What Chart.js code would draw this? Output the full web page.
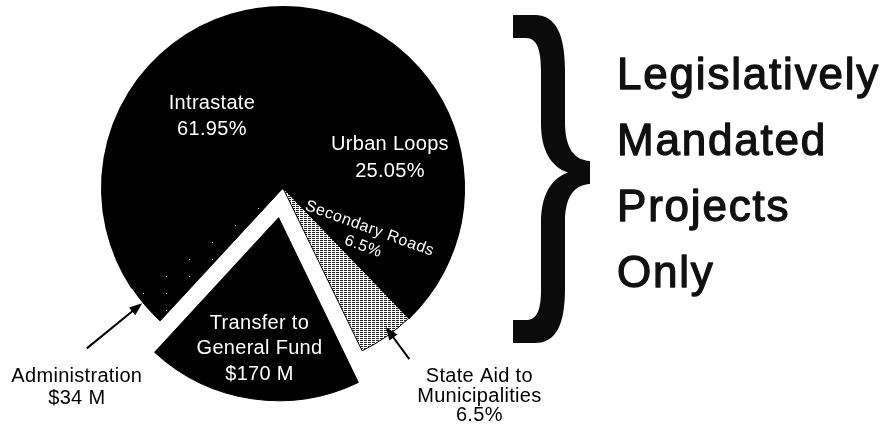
<!DOCTYPE html>
<html>
<head>
<meta charset="utf-8">
<script src="https://cdn.jsdelivr.net/npm/chart.js@4.4.1/dist/chart.umd.min.js"></script>
<style>
  html, body { margin: 0; padding: 0; background: #fff; }
  #wrap { position: relative; width: 887px; height: 435px; }
</style>
</head>
<body>
<div id="wrap"><canvas id="pieChart"></canvas></div>
<script>
'use strict';

// ===== data =====
const categories = ['Intrastate', 'Urban Loops', 'Secondary Roads', 'State Aid to Municipalities', 'Transfer to General Fund', 'Administration'];
const mandatedShares = [61.95, 25.05, 6.5, 6.5];   // % of the mandated part
const mandatedTotal = 687;                          // $M
const transferAmount = 170;                         // $M
const adminAmount = 34;                             // $M
const bracketLines = ['Legislatively', 'Mandated', 'Projects', 'Only'];

const values = mandatedShares.map(s => s / 100 * mandatedTotal).concat([transferAmount, adminAmount]);

const FONT = "'Liberation Sans', Arial, sans-serif";
const EXPLODE = 30;        // px the transfer slice is pulled out
const OFFSET_DIV = 4;      // chart.js v4 arc translates offset / 4

// label text per slice
const sliceText = [
  [categories[0], `${mandatedShares[0]}%`],
  [categories[1], `${mandatedShares[1]}%`],
  [categories[2], `${mandatedShares[2]}%`],
  ['State Aid to', 'Municipalities', `${mandatedShares[3]}%`],
  ['Transfer to', 'General Fund', `$${transferAmount} M`],
  [categories[5], `$${adminAmount} M`],
];

// label placement (polar, relative to each slice)
const labelLayout = [
  { r: 0.563, shift: -6.7, lh: 26, size: 20 },
  { r: 0.616, shift: -9.6, lh: 27, size: 20 },
  { r: 0.535, shift: -7.1, lh: 19, size: 16, rot: 20, spacing: 0.6 },
  { arrow: [0.955, 1.175], shift: -1.5, dx: 70, dy: 23, lh: 19.5, size: 20 },
  { r: 0.722, shift: 0, lh: 25.5, size: 20 },
  { arrow: [1.005, 1.40], shift: 1.1, dx: -10, dy: 34, lh: 22, size: 20 },
];

function makePattern(w, h, bg, fg, pixels) {
  const c = document.createElement('canvas');
  c.width = w; c.height = h;
  const g = c.getContext('2d');
  g.fillStyle = bg; g.fillRect(0, 0, w, h);
  g.fillStyle = fg;
  pixels.forEach(([px, py]) => g.fillRect(px, py, 1, 1));
  return g.createPattern(c, 'repeat');
}

const hatch = makePattern(4, 2, '#fff', '#222', [[0, 0], [1, 0], [2, 0]]);
const speckle = makePattern(23, 17, '#000', '#ddd', [[5, 4]]);

function drawArrow(ctx, x1, y1, x2, y2) {
  const a = Math.atan2(y2 - y1, x2 - x1);
  const ca = Math.cos(a), sa = Math.sin(a);
  ctx.strokeStyle = '#000';
  ctx.fillStyle = '#000';
  ctx.lineWidth = 2;
  ctx.beginPath();
  ctx.moveTo(x1, y1);
  ctx.lineTo(x2 - ca * 8, y2 - sa * 8);
  ctx.stroke();
  ctx.beginPath();
  ctx.moveTo(x2, y2);
  ctx.lineTo(x2 - 13 * ca + 5 * sa, y2 - 13 * sa - 5 * ca);
  ctx.lineTo(x2 - 13 * ca - 5 * sa, y2 - 13 * sa + 5 * ca);
  ctx.closePath();
  ctx.fill();
}

// slice labels + arrows
const labelPlugin = {
  id: 'sliceLabels',
  afterDatasetsDraw(chart) {
    const { ctx } = chart;
    const ds = chart.data.datasets[0];
    const meta = chart.getDatasetMeta(0);
    ctx.save();
    meta.data.forEach((arc, i) => {
      const { x, y, startAngle, endAngle, outerRadius } = arc.getProps(['x', 'y', 'startAngle', 'endAngle', 'outerRadius'], true);
      const mid = (startAngle + endAngle) / 2;
      const off = (ds.offset[i] || 0) / OFFSET_DIV;
      const cx = x + Math.cos(mid) * off;
      const cy = y + Math.sin(mid) * off;
      const L = labelLayout[i];
      const ang = mid + L.shift * Math.PI / 180;
      const lines = sliceText[i];
      ctx.font = `${L.size}px ${FONT}`;
      ctx.textAlign = 'center';
      ctx.textBaseline = 'alphabetic';
      if ('letterSpacing' in ctx) ctx.letterSpacing = `${L.spacing || 0.3}px`;
      const capHalf = L.size * 0.36;
      if (L.arrow) {
        const hx = cx + Math.cos(ang) * outerRadius * L.arrow[0];
        const hy = cy + Math.sin(ang) * outerRadius * L.arrow[0];
        const tx = cx + Math.cos(ang) * outerRadius * L.arrow[1];
        const ty = cy + Math.sin(ang) * outerRadius * L.arrow[1];
        drawArrow(ctx, tx, ty, hx, hy);
        ctx.fillStyle = '#000';
        lines.forEach((t, k) => ctx.fillText(t, tx + L.dx, ty + L.dy + k * L.lh));
      } else {
        const ax = cx + Math.cos(ang) * outerRadius * L.r;
        const ay = cy + Math.sin(ang) * outerRadius * L.r;
        ctx.save();
        ctx.translate(ax, ay);
        if (L.rot) ctx.rotate(L.rot * Math.PI / 180);
        ctx.fillStyle = '#fff';
        lines.forEach((t, k) => {
          const yy = (k - (lines.length - 1) / 2) * L.lh + capHalf;
          ctx.fillText(t, 0, yy);
        });
        ctx.restore();
      }
    });
    ctx.restore();
  }
};

// curly brace + side caption
const bracePlugin = {
  id: 'brace',
  afterDraw(chart) {
    const { ctx } = chart;
    ctx.save();
    ctx.fillStyle = '#0b0b0b';
    ctx.beginPath();
    ctx.moveTo(513, 15);
    ctx.lineTo(535, 15);
    ctx.bezierCurveTo(556, 15, 565, 35, 565, 70);
    ctx.lineTo(565, 122);
    ctx.bezierCurveTo(565, 148, 574, 160, 590, 161);
    ctx.lineTo(590, 184);
    ctx.bezierCurveTo(574, 185, 565, 197, 565, 222);
    ctx.lineTo(565, 288);
    ctx.bezierCurveTo(565, 325, 556, 343, 535, 343);
    ctx.lineTo(513, 343);
    ctx.lineTo(513, 320);
    ctx.lineTo(526, 320);
    ctx.bezierCurveTo(537, 320, 541, 310, 541, 290);
    ctx.lineTo(541, 222);
    ctx.bezierCurveTo(541, 196, 551, 178, 568, 172.5);
    ctx.bezierCurveTo(551, 167, 541, 150, 541, 124);
    ctx.lineTo(541, 70);
    ctx.bezierCurveTo(541, 50, 537, 38, 526, 38);
    ctx.lineTo(513, 38);
    ctx.closePath();
    ctx.fill();

    ctx.fillStyle = '#111';
    ctx.strokeStyle = '#111';
    ctx.lineWidth = 1.3;
    ctx.lineJoin = 'round';
    ctx.font = `44px ${FONT}`;
    ctx.textAlign = 'left';
    ctx.textBaseline = 'alphabetic';
    if ('letterSpacing' in ctx) ctx.letterSpacing = '1.8px';
    bracketLines.forEach((t, k) => {
      ctx.fillText(t, 617, 89 + k * 66);
      ctx.strokeText(t, 617, 89 + k * 66);
    });
    ctx.restore();
  }
};

new Chart(document.getElementById('pieChart').getContext('2d'), {
  type: 'pie',
  plugins: [labelPlugin, bracePlugin],
  data: {
    labels: categories,
    datasets: [{
      data: values,
      backgroundColor: ['#000', '#000', '#000', hatch, '#000', speckle],
      borderColor: '#000',
      borderWidth: [2, 2, 2, 1, 1, 1],
      offset: [0, 0, 0, 0, EXPLODE * OFFSET_DIV, 0],
      radius: 181,
      clip: false,
    }],
  },
  options: {
    responsive: true,
    maintainAspectRatio: false,
    animation: false,
    rotation: 236.5,
    layout: { padding: { left: 0, right: 321, top: 0, bottom: 59 } },
    plugins: {
      legend: { display: false },
      tooltip: { enabled: false },
    },
    events: [],
  },
});
</script>
</body>
</html>
